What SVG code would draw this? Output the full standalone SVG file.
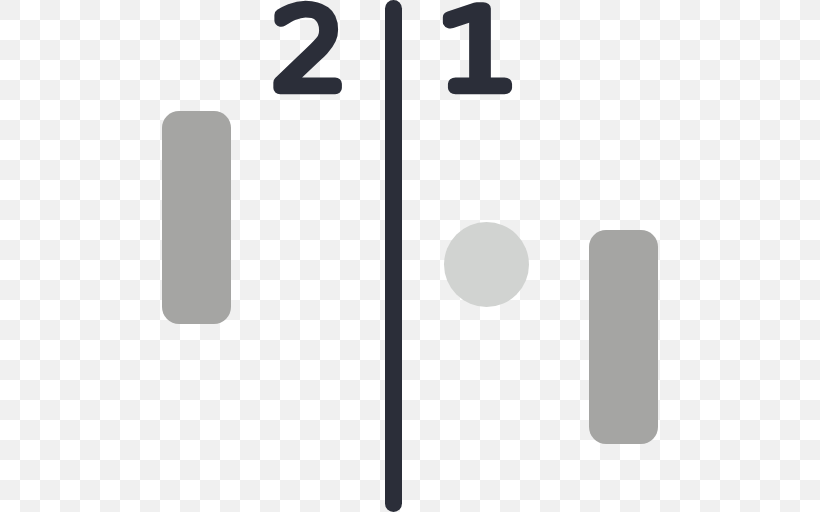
<svg xmlns="http://www.w3.org/2000/svg" width="820" height="512" viewBox="0 0 820 512">
<defs>
<pattern id="checks" width="40" height="40" patternUnits="userSpaceOnUse">
<rect width="40" height="40" fill="#ffffff"/>
<rect width="20" height="20" fill="#f0f0f0"/>
<rect x="20" y="20" width="20" height="20" fill="#f0f0f0"/>
</pattern>
</defs>
<style>
.paddle{fill:#a5a5a3}
.num{font-family:"DejaVu Sans","DejaVu Sans Light",sans-serif;font-size:108px;font-weight:200;fill:#2b2e39;stroke:#2b2e39;stroke-width:12.500px;stroke-linejoin:round;stroke-linecap:round;text-anchor:middle}
</style>
<rect width="820" height="512" fill="url(#checks)"/>
<g id="net"><rect x="385" y="0" width="17" height="512" rx="8.5" fill="#2b2e39"/></g>
<g id="score-left"><text class="num" transform="translate(309.500 88) scale(1.09 1)">2</text></g>
<g id="score-right"><text class="num" transform="translate(478 88) scale(1.22 1)">1</text></g>
<g id="paddle-left"><rect class="paddle" x="162" y="111" width="69" height="213" rx="17"/></g>
<g id="ball"><circle cx="486.500" cy="264.500" r="42.500" fill="#d1d3d1"/></g>
<g id="paddle-right"><rect class="paddle" x="589" y="230" width="69" height="214" rx="17"/></g>
</svg>
